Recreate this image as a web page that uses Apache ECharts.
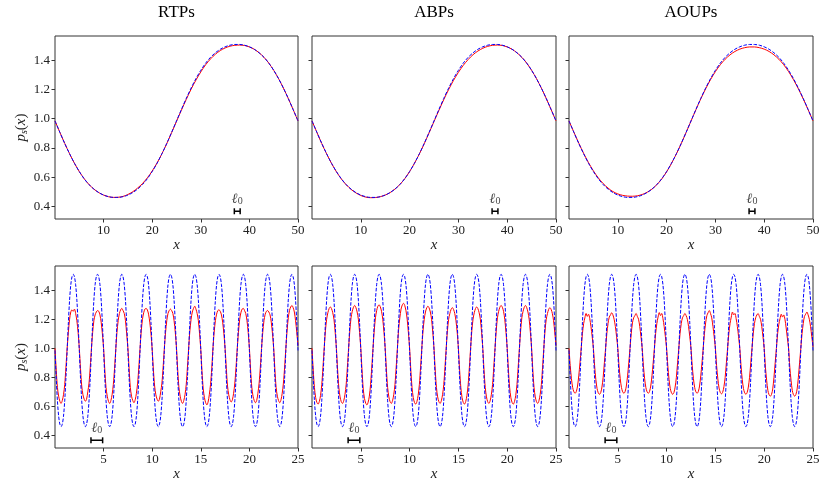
<!DOCTYPE html>
<html><head><meta charset="utf-8">
<script src="https://cdn.jsdelivr.net/npm/echarts@6/dist/echarts.min.js"></script>
<style>html,body{margin:0;padding:0;background:#fff}#c{width:831px;height:493px}</style>
</head><body><div id="c"></div>
<script>
// ---------------- data ----------------
const titles = ['RTPs', 'ABPs', 'AOUPs'];
const topStep = 1;       // x spacing of top-row samples (x = 0..50)
const botStep = 0.125;   // x spacing of bottom-row samples (x = 0..25)
const topXTicks = [10, 20, 30, 40, 50];
const botXTicks = [5, 10, 15, 20, 25];
const yTicks = [0.4, 0.6, 0.8, 1.0, 1.2, 1.4];

const topBlue = [0.985,0.907,0.831,0.760,0.695,0.638,0.589,0.549,0.518,0.494,
0.477,0.466,0.461,0.461,0.466,0.477,0.494,0.518,0.549,0.589,
0.638,0.695,0.760,0.831,0.907,0.985,1.063,1.139,1.210,1.275,
1.332,1.381,1.421,1.452,1.476,1.493,1.504,1.509,1.509,1.504,
1.493,1.476,1.452,1.421,1.381,1.332,1.275,1.210,1.139,1.063,0.985];

const topRedRTP = [0.985,0.907,0.831,0.760,0.695,0.638,0.589,0.549,0.518,0.494,
0.477,0.466,0.461,0.462,0.468,0.481,0.500,0.525,0.556,0.595,
0.642,0.697,0.760,0.830,0.905,0.982,1.058,1.132,1.202,1.265,
1.321,1.370,1.410,1.442,1.467,1.485,1.497,1.503,1.505,1.502,
1.492,1.476,1.452,1.421,1.381,1.332,1.275,1.210,1.139,1.063,0.985];

const topRedABP = [0.985,0.907,0.830,0.759,0.694,0.637,0.588,0.548,0.516,0.492,
0.474,0.463,0.459,0.460,0.466,0.477,0.494,0.518,0.549,0.589,
0.638,0.695,0.759,0.829,0.904,0.981,1.057,1.131,1.200,1.263,
1.318,1.366,1.406,1.439,1.464,1.483,1.496,1.503,1.505,1.502,
1.492,1.476,1.452,1.421,1.381,1.332,1.275,1.210,1.139,1.063,0.985];

const topRedAOUP = [0.985,0.908,0.833,0.763,0.699,0.643,0.595,0.556,0.525,0.501,
0.485,0.475,0.470,0.469,0.472,0.481,0.496,0.518,0.548,0.587,
0.636,0.694,0.759,0.830,0.906,0.984,1.061,1.136,1.205,1.268,
1.323,1.370,1.408,1.438,1.461,1.477,1.487,1.492,1.492,1.487,
1.477,1.461,1.438,1.408,1.370,1.323,1.268,1.205,1.136,1.062,0.985];

const botBlue = [
0.985,0.795,0.638,0.532,0.477,0.460,0.477,0.532,0.638,0.795,0.985,1.175,1.332,1.438,1.493,1.510,1.493,1.438,1.332,1.175,
0.985,0.795,0.638,0.532,0.477,0.460,0.477,0.532,0.638,0.795,0.985,1.175,1.332,1.438,1.493,1.510,1.493,1.438,1.332,1.175,
0.985,0.795,0.638,0.532,0.477,0.460,0.477,0.532,0.638,0.795,0.985,1.175,1.332,1.438,1.493,1.510,1.493,1.438,1.332,1.175,
0.985,0.795,0.638,0.532,0.477,0.460,0.477,0.532,0.638,0.795,0.985,1.175,1.332,1.438,1.493,1.510,1.493,1.438,1.332,1.175,
0.985,0.795,0.638,0.532,0.477,0.460,0.477,0.532,0.638,0.795,0.985,1.175,1.332,1.438,1.493,1.510,1.493,1.438,1.332,1.175,
0.985,0.795,0.638,0.532,0.477,0.460,0.477,0.532,0.638,0.795,0.985,1.175,1.332,1.438,1.493,1.510,1.493,1.438,1.332,1.175,
0.985,0.795,0.638,0.532,0.477,0.460,0.477,0.532,0.638,0.795,0.985,1.175,1.332,1.438,1.493,1.510,1.493,1.438,1.332,1.175,
0.985,0.795,0.638,0.532,0.477,0.460,0.477,0.532,0.638,0.795,0.985,1.175,1.332,1.438,1.493,1.510,1.493,1.438,1.332,1.175,
0.985,0.795,0.638,0.532,0.477,0.460,0.477,0.532,0.638,0.795,0.985,1.175,1.332,1.438,1.493,1.510,1.493,1.438,1.332,1.175,
0.985,0.795,0.638,0.532,0.477,0.460,0.477,0.532,0.638,0.795,0.985,1.175,1.332,1.438,1.493,1.510,1.493,1.438,1.332,1.175,
0.985];

const botRedRTP = [
1.00,0.85,0.73,0.67,0.635,0.62,0.64,0.68,0.75,0.87,1.00,1.11,1.20,1.25,1.265,1.255,1.27,1.24,1.19,1.11,
1.00,0.86,0.74,0.68,0.65,0.635,0.65,0.70,0.76,0.87,1.00,1.11,1.19,1.23,1.25,1.26,1.255,1.23,1.18,1.10,
1.00,0.85,0.73,0.67,0.635,0.62,0.64,0.68,0.75,0.86,0.99,1.11,1.19,1.24,1.265,1.275,1.26,1.24,1.19,1.10,
1.00,0.86,0.73,0.67,0.64,0.625,0.645,0.69,0.76,0.87,1.00,1.12,1.20,1.245,1.27,1.275,1.265,1.235,1.18,1.10,
0.99,0.85,0.74,0.68,0.65,0.635,0.65,0.70,0.76,0.87,1.00,1.11,1.19,1.24,1.26,1.27,1.26,1.24,1.19,1.11,
1.00,0.85,0.73,0.67,0.635,0.62,0.64,0.68,0.75,0.87,1.00,1.12,1.20,1.25,1.275,1.29,1.27,1.24,1.19,1.10,
0.99,0.84,0.72,0.66,0.625,0.61,0.63,0.68,0.75,0.86,1.00,1.11,1.19,1.235,1.26,1.265,1.255,1.23,1.18,1.10,
1.00,0.86,0.74,0.68,0.645,0.63,0.645,0.69,0.76,0.87,1.00,1.11,1.20,1.245,1.27,1.275,1.26,1.24,1.19,1.11,
1.00,0.85,0.73,0.67,0.64,0.625,0.64,0.69,0.76,0.87,1.00,1.11,1.19,1.235,1.255,1.26,1.25,1.23,1.18,1.10,
1.00,0.85,0.73,0.67,0.64,0.625,0.645,0.69,0.76,0.87,1.00,1.12,1.21,1.26,1.285,1.295,1.28,1.25,1.19,1.11,
1.02];

const botRedABP = [
1.00,0.85,0.73,0.66,0.627,0.615,0.633,0.675,0.75,0.87,1.00,1.12,1.20,1.245,1.273,1.285,1.273,1.245,1.20,1.11,
1.00,0.85,0.73,0.665,0.632,0.62,0.638,0.68,0.75,0.87,1.00,1.12,1.21,1.255,1.283,1.295,1.28,1.25,1.20,1.11,
1.00,0.85,0.72,0.655,0.622,0.61,0.628,0.67,0.75,0.87,1.00,1.12,1.21,1.26,1.29,1.30,1.285,1.255,1.20,1.11,
1.00,0.85,0.73,0.665,0.632,0.62,0.638,0.68,0.75,0.87,1.00,1.13,1.21,1.27,1.298,1.31,1.295,1.26,1.20,1.11,
1.00,0.85,0.73,0.66,0.627,0.615,0.633,0.675,0.75,0.87,1.00,1.12,1.20,1.25,1.278,1.29,1.278,1.25,1.20,1.11,
1.00,0.85,0.73,0.665,0.632,0.62,0.638,0.68,0.75,0.87,1.00,1.12,1.20,1.24,1.268,1.28,1.268,1.24,1.19,1.11,
1.00,0.85,0.73,0.66,0.627,0.615,0.633,0.675,0.75,0.87,1.00,1.12,1.20,1.245,1.273,1.285,1.273,1.245,1.20,1.11,
1.00,0.85,0.73,0.665,0.632,0.62,0.638,0.68,0.75,0.87,1.00,1.12,1.21,1.255,1.283,1.295,1.283,1.255,1.20,1.11,
1.00,0.85,0.73,0.66,0.627,0.615,0.633,0.675,0.75,0.87,1.00,1.12,1.21,1.255,1.283,1.295,1.28,1.25,1.20,1.11,
1.00,0.85,0.73,0.665,0.632,0.62,0.638,0.68,0.75,0.87,1.00,1.12,1.20,1.24,1.268,1.28,1.268,1.24,1.19,1.11,
1.02];

const botRedAOUP = [
1.00,0.88,0.79,0.73,0.70,0.69,0.702,0.74,0.81,0.90,1.00,1.10,1.17,1.21,1.24,1.22,1.235,1.205,1.15,1.08,
1.00,0.88,0.785,0.723,0.693,0.683,0.695,0.733,0.80,0.90,1.00,1.10,1.17,1.215,1.23,1.245,1.23,1.20,1.15,1.08,
1.00,0.88,0.79,0.73,0.70,0.69,0.702,0.74,0.81,0.90,1.00,1.10,1.175,1.21,1.225,1.24,1.22,1.20,1.15,1.08,
1.00,0.88,0.79,0.73,0.70,0.69,0.702,0.74,0.81,0.90,1.00,1.10,1.17,1.215,1.246,1.225,1.24,1.205,1.15,1.08,
1.00,0.88,0.785,0.723,0.693,0.683,0.695,0.733,0.80,0.90,1.00,1.10,1.17,1.21,1.225,1.24,1.225,1.20,1.15,1.08,
1.00,0.88,0.79,0.73,0.70,0.69,0.702,0.74,0.81,0.90,1.00,1.10,1.175,1.225,1.245,1.26,1.24,1.21,1.15,1.08,
1.00,0.88,0.79,0.726,0.696,0.686,0.698,0.736,0.80,0.90,1.00,1.10,1.17,1.215,1.25,1.23,1.24,1.205,1.15,1.08,
1.00,0.88,0.785,0.723,0.693,0.683,0.695,0.733,0.80,0.90,1.00,1.10,1.17,1.21,1.23,1.24,1.22,1.20,1.15,1.08,
1.00,0.87,0.78,0.71,0.68,0.67,0.682,0.72,0.80,0.90,1.00,1.10,1.165,1.205,1.235,1.215,1.23,1.20,1.14,1.07,
1.00,0.87,0.78,0.71,0.68,0.67,0.682,0.72,0.80,0.90,1.00,1.10,1.17,1.22,1.235,1.25,1.23,1.20,1.15,1.08,
1.01];

// length-scale marker ℓ0 (x-range and height, in data units)
const ell0Top = [36.9, 38.1];
const ell0Bot = [3.7, 4.9];
const ell0Y = 0.366;

const topRed = [topRedRTP, topRedABP, topRedAOUP];
const botRed = [botRedRTP, botRedABP, botRedAOUP];

// ---------------- layout ----------------
const colLeft = [55, 312, 569];
const colWidth = [243, 244, 244];
const rowTop = [36, 266];
const rowHeight = [183, 182];
const yMin = 0.313, yMax = 1.567;
const SERIF = "'Liberation Serif', 'DejaVu Serif', serif";
const AX = '#333';

const toXY = (arr, step) => arr.map((v, i) => [+(i * step).toFixed(4), v]);

const grids = [], xAxes = [], yAxes = [], series = [], graphics = [];

for (let r = 0; r < 2; r++) {
  for (let c = 0; c < 3; c++) {
    const gi = r * 3 + c;
    grids.push({
      left: colLeft[c], top: rowTop[r], width: colWidth[c], height: rowHeight[r],
      show: true, borderColor: AX, borderWidth: 1, backgroundColor: 'transparent'
    });
    const ticks = r === 0 ? topXTicks : botXTicks;
    xAxes.push({
      type: 'value', gridIndex: gi, min: 0, max: r === 0 ? 50 : 25,
      axisLine: { show: false, onZero: false },
      axisTick: { show: true, customValues: ticks, length: 3.5, lineStyle: { color: AX, width: 1 } },
      axisLabel: { customValues: ticks, fontFamily: SERIF, fontSize: 13, color: '#222', margin: 5 },
      splitLine: { show: false },
      name: 'x', nameLocation: 'middle', nameGap: 18,
      nameTextStyle: { fontFamily: SERIF, fontStyle: 'italic', fontSize: 15, color: '#222' }
    });
    const y = {
      type: 'value', gridIndex: gi, min: yMin, max: yMax,
      axisLine: { show: false, onZero: false },
      axisTick: { show: true, customValues: yTicks, length: 3.5, lineStyle: { color: AX, width: 1 } },
      axisLabel: {
        show: c === 0, customValues: yTicks, fontFamily: SERIF, fontSize: 13, color: '#222', margin: 5,
        formatter: v => v.toFixed(1)
      },
      splitLine: { show: false }
    };
    if (c === 0) {
      y.name = '{p|p}{s|s}{n|(}{p|x}{n|)}';
      y.nameLocation = 'middle';
      y.nameRotate = 90;
      y.nameGap = 26;
      y.nameTextStyle = {
        color: '#222',
        rich: {
          p: { fontFamily: SERIF, fontStyle: 'italic', fontSize: 15, lineHeight: 16, verticalAlign: 'bottom', color: '#222' },
          n: { fontFamily: SERIF, fontSize: 15, lineHeight: 16, verticalAlign: 'bottom', color: '#222' },
          s: { fontFamily: SERIF, fontStyle: 'italic', fontSize: 10, lineHeight: 8, verticalAlign: 'bottom', color: '#222' }
        }
      };
    }
    yAxes.push(y);

    const redArr = r === 0 ? topRed[c] : botRed[c];
    const blueArr = r === 0 ? topBlue : botBlue;
    const step = r === 0 ? topStep : botStep;
    series.push({
      type: 'line', xAxisIndex: gi, yAxisIndex: gi, data: toXY(redArr, step),
      showSymbol: false, smooth: 0.3, lineStyle: { color: '#ff0000', width: 1 }, z: 2
    });
    series.push({
      type: 'line', xAxisIndex: gi, yAxisIndex: gi, data: toXY(blueArr, step),
      showSymbol: false, smooth: 0.3, lineStyle: { color: '#0000ff', width: 1, type: [3.5, 1.6] }, z: 3
    });
    const ell = r === 0 ? ell0Top : ell0Bot;
    series.push({
      type: 'line', xAxisIndex: gi, yAxisIndex: gi,
      data: [[ell[0], ell0Y], [ell[1], ell0Y]],
      symbol: 'rect', symbolSize: [1.5, 6], showSymbol: true,
      itemStyle: { color: '#000' }, lineStyle: { color: '#000', width: 1.5 }, z: 4
    });
    series.push({
      type: 'scatter', xAxisIndex: gi, yAxisIndex: gi,
      data: [[(ell[0] + ell[1]) / 2, ell0Y]], symbolSize: 0,
      label: {
        show: true, position: 'top', distance: 5,
        formatter: '{l|ℓ}{z|0}',
        rich: {
          l: { fontFamily: SERIF, fontStyle: 'italic', fontSize: 14, lineHeight: 15, verticalAlign: 'bottom', color: '#111' },
          z: { fontFamily: SERIF, fontSize: 10, lineHeight: 9, verticalAlign: 'bottom', color: '#111' }
        }
      }, z: 4
    });
  }
}

for (let c = 0; c < 3; c++) {
  graphics.push({
    type: 'text', x: colLeft[c] + colWidth[c] / 2, y: 13,
    style: { text: titles[c], font: "17px 'Liberation Serif', serif", fill: '#000',
             textAlign: 'center', textVerticalAlign: 'middle' }
  });
}

const chart = echarts.init(document.getElementById('c'), null, { renderer: 'canvas' });
chart.setOption({
  animation: false,
  backgroundColor: '#fff',
  grid: grids, xAxis: xAxes, yAxis: yAxes, series: series, graphic: graphics
});
</script>
</body></html>
